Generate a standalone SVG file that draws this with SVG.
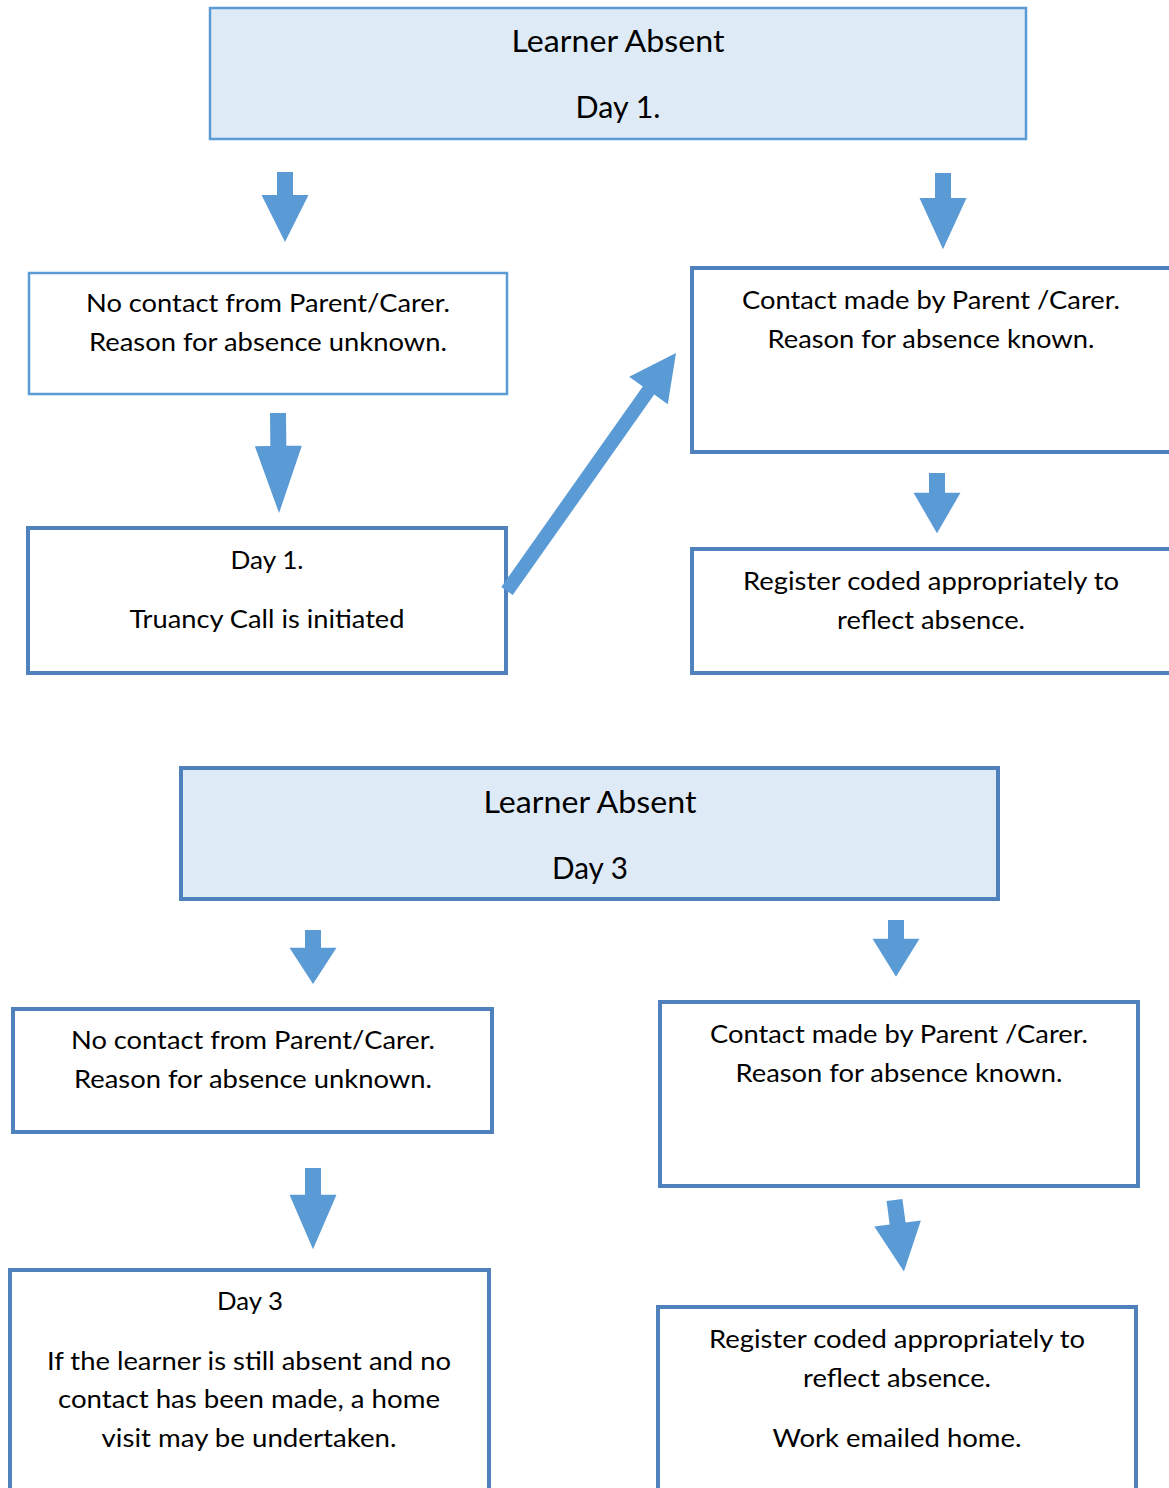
<svg xmlns="http://www.w3.org/2000/svg" width="1169" height="1488" viewBox="0 0 1169 1488">
<defs>
<style>
.title{fill:#DEEAF6}
.thin{fill:#FFFFFF;stroke:#5B9BD5;stroke-width:2.5}
.thick{fill:#FFFFFF;stroke:#4F81BD;stroke-width:4}
.tfill{fill:#DEEAF6;stroke:#5B9BD5;stroke-width:2.5}
.tfill2{fill:#DEEAF6;stroke:#4F81BD;stroke-width:4}
text{font-family:Lato,"Liberation Sans",sans-serif;fill:#000;text-anchor:middle;font-size:25px}
.big{font-size:30px}
.arr{fill:#5B9BD5}
</style>
<polygon id="darrow" points="-8,0 8,0 8,23 23.5,23 0,70 -23.5,23 -8,23"/>
</defs>

<g id="n-title1">
<rect class="tfill" x="210" y="8" width="816" height="131"/>
<text class="big" x="618" y="52" textLength="213" lengthAdjust="spacingAndGlyphs">Learner Absent</text>
<text class="big" x="618" y="118" textLength="85" lengthAdjust="spacingAndGlyphs">Day 1.</text>
</g>

<g id="n-nocontact1">
<rect class="thin" x="29" y="273" width="478" height="121"/>
<text x="268" y="312" textLength="364" lengthAdjust="spacingAndGlyphs">No contact from Parent/Carer.</text>
<text x="268" y="351" textLength="358" lengthAdjust="spacingAndGlyphs">Reason for absence unknown.</text>
</g>

<g id="n-contact1">
<rect class="thick" x="692" y="268" width="482" height="184"/>
<text x="931" y="309" textLength="378" lengthAdjust="spacingAndGlyphs">Contact made by Parent /Carer.</text>
<text x="931" y="348" textLength="327" lengthAdjust="spacingAndGlyphs">Reason for absence known.</text>
</g>

<g id="n-truancy">
<rect class="thick" x="28" y="528" width="478" height="145"/>
<text x="267" y="569" textLength="73" lengthAdjust="spacingAndGlyphs">Day 1.</text>
<text x="267" y="628" textLength="275" lengthAdjust="spacingAndGlyphs">Truancy Call is initiated</text>
</g>

<g id="n-register1">
<rect class="thick" x="692" y="549" width="482" height="124"/>
<text x="931" y="590" textLength="376" lengthAdjust="spacingAndGlyphs">Register coded appropriately to</text>
<text x="931" y="629" textLength="188" lengthAdjust="spacingAndGlyphs">reflect absence.</text>
</g>

<g id="n-title2">
<rect class="tfill2" x="181" y="768" width="817" height="131"/>
<text class="big" x="590" y="813" textLength="213" lengthAdjust="spacingAndGlyphs">Learner Absent</text>
<text class="big" x="590" y="879" textLength="76" lengthAdjust="spacingAndGlyphs">Day 3</text>
</g>

<g id="n-nocontact2">
<rect class="thick" x="13" y="1009" width="479" height="123"/>
<text x="253" y="1049" textLength="364" lengthAdjust="spacingAndGlyphs">No contact from Parent/Carer.</text>
<text x="253" y="1088" textLength="358" lengthAdjust="spacingAndGlyphs">Reason for absence unknown.</text>
</g>

<g id="n-contact2">
<rect class="thick" x="660" y="1002" width="478" height="184"/>
<text x="899" y="1043" textLength="378" lengthAdjust="spacingAndGlyphs">Contact made by Parent /Carer.</text>
<text x="899" y="1082" textLength="327" lengthAdjust="spacingAndGlyphs">Reason for absence known.</text>
</g>

<g id="n-homevisit">
<rect class="thick" x="10" y="1270" width="479" height="230"/>
<text x="250" y="1310" textLength="66" lengthAdjust="spacingAndGlyphs">Day 3</text>
<text x="249" y="1370" textLength="404" lengthAdjust="spacingAndGlyphs">If the learner is still absent and no</text>
<text x="249" y="1408" textLength="382" lengthAdjust="spacingAndGlyphs">contact has been made, a home</text>
<text x="249" y="1447" textLength="295" lengthAdjust="spacingAndGlyphs">visit may be undertaken.</text>
</g>

<g id="n-register2">
<rect class="thick" x="658" y="1307" width="478" height="200"/>
<text x="897" y="1348" textLength="376" lengthAdjust="spacingAndGlyphs">Register coded appropriately to</text>
<text x="897" y="1387" textLength="188" lengthAdjust="spacingAndGlyphs">reflect absence.</text>
<text x="897" y="1447" textLength="249" lengthAdjust="spacingAndGlyphs">Work emailed home.</text>
</g>

<g id="connectors" class="arr">
<use href="#darrow" transform="translate(285,172)"/>
<use href="#darrow" transform="translate(943,173) scale(1,1.09)"/>
<use href="#darrow" transform="translate(278,413) rotate(-0.6) scale(1,1.43)"/>
<use href="#darrow" transform="translate(937,473) scale(1,0.86)"/>
<polygon points="501.3,586.9 642.8,386.4 629.2,376.8 676,353 667.8,404.2 654.2,394.6 512.7,595.1"/>
<use href="#darrow" transform="translate(313,930) scale(1,0.77)"/>
<use href="#darrow" transform="translate(896,920) scale(1,0.81)"/>
<use href="#darrow" transform="translate(313,1168) scale(1,1.16)"/>
<use href="#darrow" transform="translate(894.5,1200) rotate(-7.5) scale(1,1.03)"/>
</g>
</svg>
